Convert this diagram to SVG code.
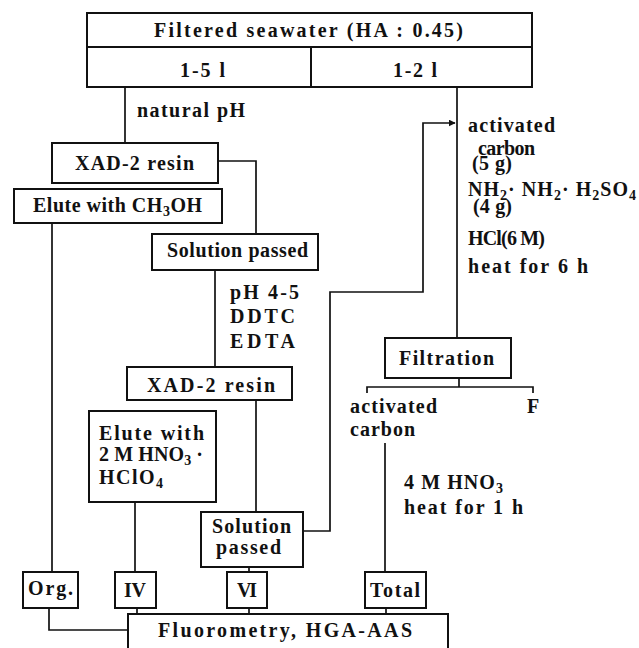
<svg xmlns="http://www.w3.org/2000/svg" width="639" height="648" viewBox="0 0 639 648">
<style>
text{font-family:"Liberation Serif","Times New Roman",serif;font-weight:bold;font-size:20px;fill:#111}
.sub{font-size:14px}
rect,.b{fill:#fff;stroke:#111;stroke-width:2}
.c path{fill:none;stroke:#111;stroke-width:1.7}
</style>
<defs>
<marker id="ar" viewBox="0 0 10 10" refX="9" refY="5" markerWidth="7" markerHeight="7" orient="auto" markerUnits="userSpaceOnUse">
<path d="M0,0 L10,5 L0,10 z" fill="#111"/>
</marker>
</defs>
<rect width="639" height="648" style="fill:#fff;stroke:none"/>
<g class="c" id="connectors">
<path d="M125 87 V143"/>
<path d="M457 87 V338"/>
<path d="M218 161 H256 V234"/>
<path d="M215 270 V367"/>
<path d="M256 400 V512"/>
<path d="M52 223 V572"/>
<path d="M135 502 V572"/>
<path d="M249 567 V572"/>
<path d="M385 443 V572"/>
<path d="M459 378 V387"/>
<path d="M367 393 V387 H533 V393"/>
<path d="M303 531 H330 V292 H423 V123 H455" marker-end="url(#ar)"/>
<path d="M49 608 V630 H128"/>
<path d="M137 608 V614"/>
<path d="M249 608 V614"/>
<path d="M386 608 V614"/>
</g>
<g id="top">
<rect x="87" y="13" width="445" height="74"/>
<path class="b" d="M87 47 H532 M311 47 V87"/>
<text x="154" y="37" textLength="309" lengthAdjust="spacing">Filtered seawater (HA : 0.45)</text>
<text x="180" y="77" textLength="45" lengthAdjust="spacing">1-5 l</text>
<text x="393" y="77" textLength="44" lengthAdjust="spacing">1-2 l</text>
</g>
<g id="labels">
<text x="137" y="117" textLength="108" lengthAdjust="spacing">natural pH</text>
<text x="468" y="132" textLength="87" lengthAdjust="spacing">activated</text>
<text x="478" y="155" textLength="57" lengthAdjust="spacing">carbon</text>
<text x="472" y="170" textLength="40" lengthAdjust="spacing">(5 g)</text>
<text x="468" y="196" textLength="168" lengthAdjust="spacing">NH<tspan class="sub" dy="4">2</tspan><tspan dy="-4">· NH</tspan><tspan class="sub" dy="4">2</tspan><tspan dy="-4">· H</tspan><tspan class="sub" dy="4">2</tspan><tspan dy="-4">SO</tspan><tspan class="sub" dy="4">4</tspan></text>
<text x="473" y="213" textLength="39" lengthAdjust="spacing">(4 g)</text>
<text x="468" y="245" textLength="77" lengthAdjust="spacing">HCl(6 M)</text>
<text x="468" y="273" textLength="120" lengthAdjust="spacing">heat for 6 h</text>
<text x="230" y="299" textLength="69" lengthAdjust="spacing">pH 4-5</text>
<text x="230" y="323" textLength="65" lengthAdjust="spacing">DDTC</text>
<text x="230" y="348" textLength="65" lengthAdjust="spacing">EDTA</text>
<text x="350" y="413" textLength="87" lengthAdjust="spacing">activated</text>
<text x="527" y="413">F</text>
<text x="350" y="436" textLength="65" lengthAdjust="spacing">carbon</text>
<text x="404" y="489" textLength="99" lengthAdjust="spacing">4 M HNO<tspan class="sub" dy="4">3</tspan></text>
<text x="404" y="514" textLength="119" lengthAdjust="spacing">heat for 1 h</text>
</g>
<g id="xad1">
<rect x="52" y="143" width="166" height="40"/>
<text x="75" y="170" textLength="119" lengthAdjust="spacing">XAD-2 resin</text>
</g>
<g id="elute1">
<rect x="14" y="189" width="208" height="34"/>
<text x="33" y="212" textLength="169" lengthAdjust="spacing">Elute with CH<tspan class="sub" dy="4">3</tspan><tspan dy="-4">OH</tspan></text>
</g>
<g id="sol1">
<rect x="152" y="234" width="166" height="36"/>
<text x="167" y="257" textLength="141" lengthAdjust="spacing">Solution passed</text>
</g>
<g id="xad2">
<rect x="127" y="367" width="165" height="33"/>
<text x="147" y="392" textLength="128" lengthAdjust="spacing">XAD-2 resin</text>
</g>
<g id="elute2">
<rect x="89" y="411" width="127" height="91"/>
<text x="99" y="440" textLength="105" lengthAdjust="spacing">Elute with</text>
<text x="99" y="461" textLength="104" lengthAdjust="spacing">2 M HNO<tspan class="sub" dy="4">3</tspan><tspan dy="-4"> ·</tspan></text>
<text x="99" y="484" textLength="64" lengthAdjust="spacing">HClO<tspan class="sub" dy="4">4</tspan></text>
</g>
<g id="sol2">
<rect x="201" y="512" width="102" height="55"/>
<text x="212" y="533" textLength="79" lengthAdjust="spacing">Solution</text>
<text x="216" y="554" textLength="65" lengthAdjust="spacing">passed</text>
</g>
<g id="filtration">
<rect x="385" y="338" width="126" height="40"/>
<text x="399" y="365" textLength="95" lengthAdjust="spacing">Filtration</text>
</g>
<g id="org">
<rect x="23" y="572" width="55" height="36"/>
<text x="28" y="595" textLength="45" lengthAdjust="spacing">Org.</text>
</g>
<g id="iv">
<rect x="115" y="572" width="41" height="36"/>
<text x="124" y="597" textLength="22" lengthAdjust="spacing">IV</text>
</g>
<g id="vi">
<rect x="227" y="572" width="40" height="36"/>
<text x="237" y="597" textLength="20" lengthAdjust="spacing">VI</text>
</g>
<g id="total">
<rect x="365" y="572" width="61" height="36"/>
<text x="370" y="597" textLength="50" lengthAdjust="spacing">Total</text>
</g>
<g id="fluoro">
<rect x="128" y="614" width="320" height="50"/>
<text x="158" y="637" textLength="254" lengthAdjust="spacing">Fluorometry, HGA-AAS</text>
</g>
</svg>
